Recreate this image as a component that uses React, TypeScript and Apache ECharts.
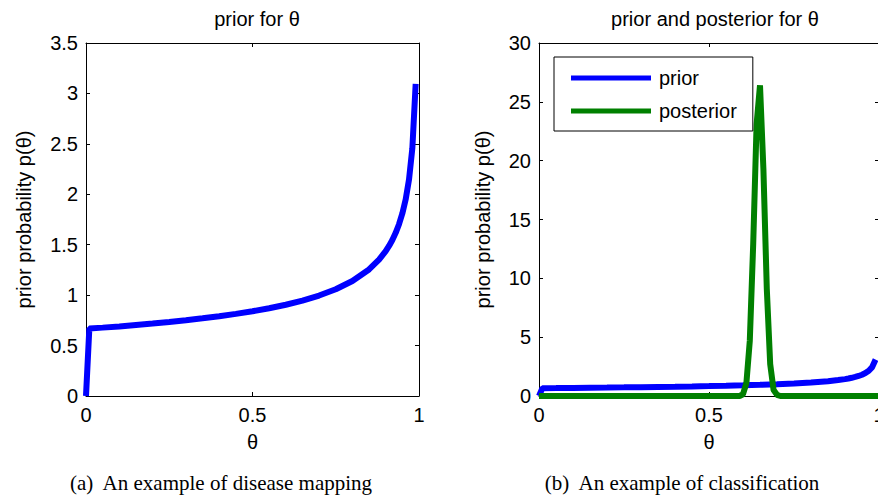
import React, { useEffect, useRef } from "react";
import * as echarts from "echarts";

// prior density p(theta)
const priorTheta = [
  0, 0.01, 0.05, 0.1, 0.15, 0.2, 0.25, 0.3, 0.35, 0.4, 0.45, 0.5, 0.55, 0.6,
  0.65, 0.7, 0.75, 0.8, 0.85, 0.88, 0.9, 0.91, 0.92, 0.93, 0.94, 0.95, 0.96,
  0.97, 0.98, 0.99,
];
const priorValues = [
  0, 0.669, 0.678, 0.69, 0.704, 0.718, 0.734, 0.751, 0.77, 0.79, 0.814, 0.84,
  0.87, 0.905, 0.946, 0.996, 1.058, 1.14, 1.255, 1.352, 1.436, 1.488, 1.547,
  1.618, 1.703, 1.81, 1.949, 2.146, 2.456, 3.094,
];

// posterior density
const postTheta = [
  0, 0.58, 0.59, 0.6, 0.61, 0.62, 0.63, 0.64, 0.65, 0.66, 0.67, 0.68, 0.69,
  0.7, 0.71, 1,
];
const postValues = [
  0, 0, 0, 0.15, 1.1, 4.7, 12.9, 23.1, 26.4, 19.3, 9.1, 2.7, 0.5, 0.1, 0, 0,
];

const xTicks = [0, 0.5, 1];
const leftYMax = 3.5;
const leftYStep = 0.5;
const rightYMax = 30;
const rightYStep = 5;

const titles = ["prior for θ", "prior and posterior for θ"];
const xName = "θ";
const yName = "prior probability p(θ)";
const captions = [
  "(a)  An example of disease mapping",
  "(b)  An example of classification",
];
const legendNames = ["prior", "posterior"];

const FONT = "'Liberation Sans', Arial, Helvetica, sans-serif";
const SERIF = "'Liberation Serif', 'Times New Roman', Times, serif";
const BLUE = "#0000ff";
const GREEN = "#008000";

function pairs(xs: number[], ys: number[]) {
  return xs.map((x, i) => [x, ys[i]]);
}

export default function App() {
  const ref = useRef<HTMLDivElement>(null);
  useEffect(() => {
    if (!ref.current) return;
    const chart = echarts.init(ref.current, undefined, { renderer: "svg" });
    const grids = [
      { left: 86, top: 43, width: 333, height: 353, outerBoundsMode: "none", containLabel: false },
      { left: 539, top: 43, width: 340, height: 353, outerBoundsMode: "none", containLabel: false },
    ];
    const axisLine = { show: true, onZero: false, lineStyle: { color: "#000", width: 1 } };
    const tick = { show: true, inside: true, length: 4, lineStyle: { color: "#000" } };
    const label = { color: "#000", fontSize: 20, fontFamily: FONT };
    const xAxes: any[] = [];
    const yAxes: any[] = [];
    [0, 1].forEach((g) => {
      xAxes.push({
        type: "value",
        gridIndex: g,
        min: 0,
        max: 1,
        interval: 0.5,
        position: "bottom",
        axisLine,
        axisTick: tick,
        splitLine: { show: false },
        axisLabel: { ...label, margin: 9, formatter: (v: number) => (xTicks.includes(v) ? String(v) : "") },
        name: xName,
        nameLocation: "middle",
        nameGap: 36,
        nameTextStyle: { color: "#000", fontSize: 20, fontFamily: FONT },
      });
      xAxes.push({
        type: "value",
        gridIndex: g,
        min: 0,
        max: 1,
        interval: 0.5,
        position: "top",
        axisLine,
        axisTick: tick,
        splitLine: { show: false },
        axisLabel: { show: false },
      });
      const ymax = g === 0 ? leftYMax : rightYMax;
      const ystep = g === 0 ? leftYStep : rightYStep;
      yAxes.push({
        type: "value",
        gridIndex: g,
        min: 0,
        max: ymax,
        interval: ystep,
        position: "left",
        axisLine,
        axisTick: tick,
        splitLine: { show: false },
        axisLabel: { ...label, margin: 8 },
        name: yName,
        nameLocation: "middle",
        nameRotate: 90,
        nameGap: g === 0 ? 52 : 46,
        nameTextStyle: { color: "#000", fontSize: 20, fontFamily: FONT },
      });
      yAxes.push({
        type: "value",
        gridIndex: g,
        min: 0,
        max: ymax,
        interval: ystep,
        position: "right",
        axisLine,
        axisTick: tick,
        splitLine: { show: false },
        axisLabel: { show: false },
      });
    });

    const lineSeries = (name: string, xi: number, yi: number, data: number[][], color: string) => ({
      type: "line",
      name,
      xAxisIndex: xi,
      yAxisIndex: yi,
      data,
      showSymbol: false,
      symbol: "none",
      clip: true,
      lineStyle: { color, width: 6 },
      itemStyle: { color },
    });

    chart.setOption({
      animation: false,
      backgroundColor: "#fff",
      title: [
        {
          text: titles[0],
          left: 252,
          top: 4,
          textAlign: "center",
          textStyle: { color: "#000", fontSize: 20, fontWeight: "normal", fontFamily: FONT },
        },
        {
          text: titles[1],
          left: 710,
          top: 4,
          textAlign: "center",
          textStyle: { color: "#000", fontSize: 20, fontWeight: "normal", fontFamily: FONT },
        },
      ],
      legend: {
        data: legendNames,
        orient: "vertical",
        left: 554,
        top: 57,
        padding: [11, 16, 10, 17],
        itemGap: 13,
        itemWidth: 80,
        itemHeight: 5,
        icon: "rect",
        selectedMode: false,
        borderColor: "#000",
        borderWidth: 1,
        backgroundColor: "#fff",
        textStyle: { color: "#000", fontSize: 20, fontFamily: FONT, padding: [0, 0, 0, 3] },
      },
      grid: grids,
      xAxis: xAxes,
      yAxis: yAxes,
      series: [
        lineSeries("prior", 0, 0, pairs(priorTheta, priorValues), BLUE),
        lineSeries("prior", 2, 2, pairs(priorTheta, priorValues), BLUE),
        lineSeries("posterior", 2, 2, pairs(postTheta, postValues), GREEN),
      ],
      graphic: [
        {
          type: "text",
          x: 221,
          y: 483,
          style: { text: captions[0], fill: "#000", font: `21px ${SERIF}`, textAlign: "center", textVerticalAlign: "middle" },
        },
        {
          type: "text",
          x: 682,
          y: 483,
          style: { text: captions[1], fill: "#000", font: `21px ${SERIF}`, textAlign: "center", textVerticalAlign: "middle" },
        },
      ],
    });
    return () => chart.dispose();
  }, []);
  return (
    <div
      ref={ref}
      style={{ position: "fixed", left: 0, top: 0, width: 878, height: 500, background: "#fff" }}
    />
  );
}
